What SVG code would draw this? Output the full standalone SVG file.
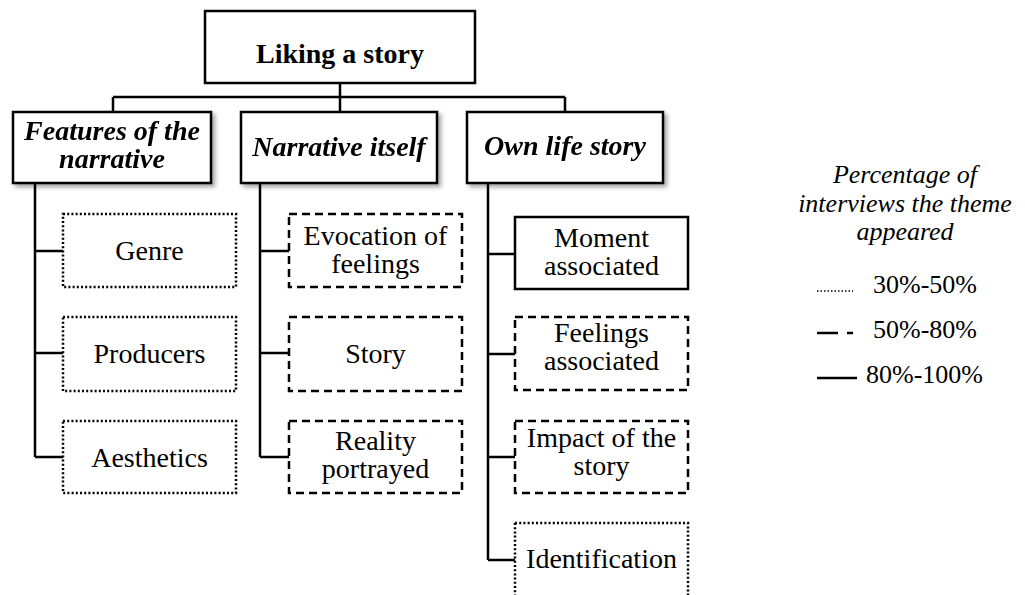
<svg xmlns="http://www.w3.org/2000/svg" width="1025" height="595" viewBox="0 0 1025 595">
<defs>
<filter id="sh" x="-10%" y="-10%" width="130%" height="140%">
<feDropShadow dx="3" dy="3" stdDeviation="2" flood-color="#000" flood-opacity="0.35"/>
</filter>
<style>
.box{fill:#fff;stroke:#000;stroke-width:2.5}
.dot{fill:#fff;stroke:#000;stroke-width:2.5;stroke-dasharray:2 2.2}
.dash{fill:#fff;stroke:#000;stroke-width:2.5;stroke-dasharray:8 5}
.ln{fill:none;stroke:#000;stroke-width:2.5}
text{font-family:'Liberation Serif','Tinos','Times New Roman','DejaVu Serif',serif;font-size:28px;fill:#000;text-anchor:middle}
.bi{font-weight:bold;font-style:italic}
.b{font-weight:bold}
.leg{font-size:26px}
.it{font-style:italic}
.st{text-anchor:start}
</style>
</defs>
<rect width="1025" height="595" fill="#fff"/>
<g id="connectors">
<path class="ln" d="M340 83 V97 M113 97 H565 M113 97 V112 M340 97 V112 M565 97 V112"/>
<path class="ln" d="M35 183 V457 M35 251 H63 M35 353 H63 M35 457 H63"/>
<path class="ln" d="M260 183 V457 M260 251 H289 M260 353 H289 M260 457 H289"/>
<path class="ln" d="M488 183 V560 M488 254 H515 M488 354 H515 M488 457 H515 M488 560 H515"/>
</g>
<g id="root"><rect class="box" x="205" y="11" width="270" height="72"/><text class="b" x="340" y="63" font-family="Liberation Serif, DejaVu Serif, serif">Liking a story</text></g>
<g id="features" filter="url(#sh)"><rect class="box" x="13" y="112" width="198" height="71"/><text class="bi" x="112" y="140">Features of the</text><text class="bi" x="112" y="168">narrative</text></g>
<g id="narrative" filter="url(#sh)"><rect class="box" x="241" y="112" width="196" height="71"/><text class="bi" x="339" y="156">Narrative itself</text></g>
<g id="ownlife" filter="url(#sh)"><rect class="box" x="467" y="112" width="196" height="71"/><text class="bi" x="565" y="155">Own life story</text></g>
<g id="genre"><rect class="dot" x="63" y="214" width="173" height="73"/><text x="149.5" y="260">Genre</text></g>
<g id="producers"><rect class="dot" x="63" y="317" width="173" height="74"/><text x="149.5" y="363">Producers</text></g>
<g id="aesthetics"><rect class="dot" x="63" y="421" width="173" height="72"/><text x="149.5" y="467">Aesthetics</text></g>
<g id="evocation"><rect class="dash" x="289" y="214" width="173" height="73"/><text x="375.5" y="245">Evocation of</text><text x="375.5" y="273">feelings</text></g>
<g id="story"><rect class="dash" x="289" y="317" width="173" height="74"/><text x="375.5" y="363">Story</text></g>
<g id="reality"><rect class="dash" x="289" y="421" width="173" height="72"/><text x="375.5" y="450">Reality</text><text x="375.5" y="478">portrayed</text></g>
<g id="moment"><rect class="box" x="515" y="217" width="173" height="72"/><text x="601.5" y="247">Moment</text><text x="601.5" y="275">associated</text></g>
<g id="feelings"><rect class="dash" x="515" y="317" width="173" height="73"/><text x="601.5" y="342">Feelings</text><text x="601.5" y="370">associated</text></g>
<g id="impact"><rect class="dash" x="515" y="421" width="173" height="72"/><text x="601.5" y="447">Impact of the</text><text x="601.5" y="475">story</text></g>
<g id="identification"><rect class="dot" x="515" y="523" width="173" height="80"/><text x="601.5" y="568">Identification</text></g>
<g id="legend">
<text class="leg it" x="905" y="183">Percentage of</text>
<text class="leg it" x="905" y="212">interviews the theme</text>
<text class="leg it" x="905" y="240">appeared</text>
<line x1="817" y1="291" x2="853" y2="291" stroke="#000" stroke-width="1.5" stroke-dasharray="1.5 2"/>
<text class="leg st" x="873" y="293">30%-50%</text>
<line x1="817" y1="333" x2="838" y2="333" stroke="#000" stroke-width="2.5"/>
<line x1="847" y1="333" x2="853" y2="333" stroke="#000" stroke-width="2.5"/>
<text class="leg st" x="873" y="338">50%-80%</text>
<line x1="817" y1="378" x2="857" y2="378" stroke="#000" stroke-width="2.5"/>
<text class="leg st" x="866" y="383">80%-100%</text>
</g>
</svg>
